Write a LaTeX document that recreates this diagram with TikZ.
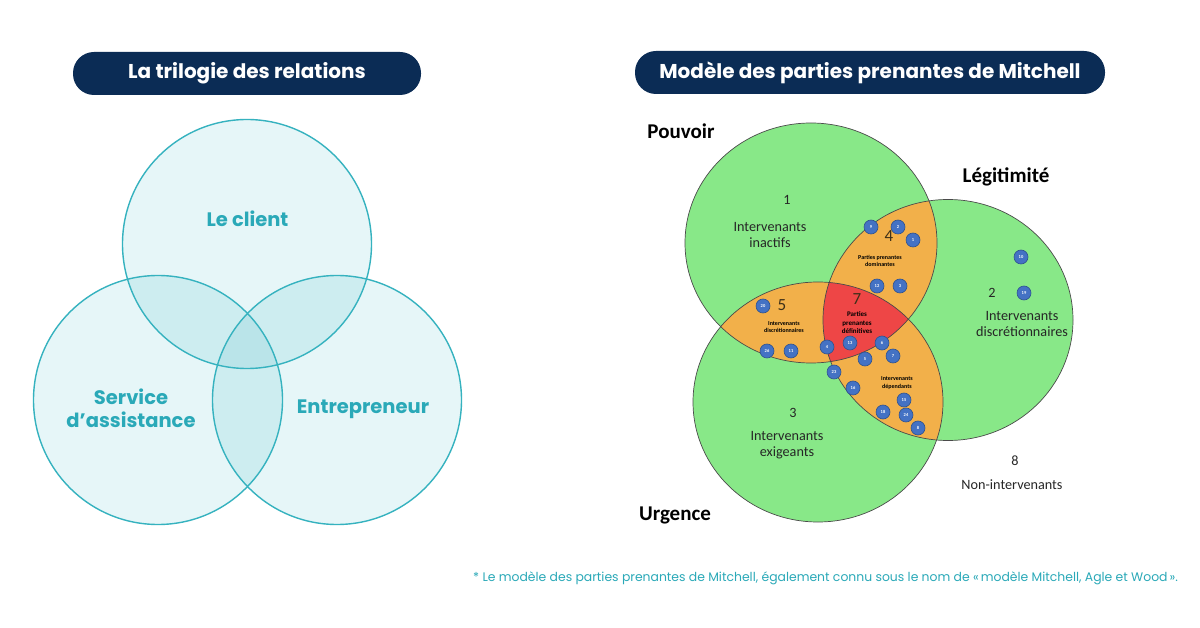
\documentclass[tikz,border=0pt]{standalone}
\usepackage{fontspec}
\setmainfont{Carlito}
\newfontfamily\geo{Poppins}
\definecolor{navy}{HTML}{0B2C55}
\definecolor{tline}{HTML}{35B2BF}
\definecolor{ttext}{HTML}{2AA9B8}
\definecolor{lbase}{HTML}{E6F6F8}
\definecolor{lpair}{HTML}{CDEDF0}
\definecolor{ltriple}{HTML}{BAE4E9}
\definecolor{vgreen}{HTML}{88E888}
\definecolor{vorange}{HTML}{F2B04A}
\definecolor{vred}{HTML}{EE4646}
\definecolor{dotblue}{HTML}{4472C4}
\definecolor{dotedge}{HTML}{2F528F}
\definecolor{vline}{HTML}{4A4A4A}
\definecolor{numcol}{HTML}{3E3018}
\tikzset{
  pill/.style={fill=navy, rounded corners=21pt, text=white, inner sep=0pt,
    minimum height=43pt, font=\geo\bfseries\fontsize{20}{20}\selectfont},
  llabel/.style={text=ttext, align=center, font=\geo\bfseries\fontsize{19.5}{23}\selectfont},
  lcirc/.style={draw=tline, line width=1.4pt},
  vcirc/.style={draw=vline, line width=0.7pt},
  axis/.style={font=\bfseries\fontsize{21}{21}\selectfont, text=black},
  reg/.style={align=center, text=black!85, font=\fontsize{14.2}{16}\selectfont},
  bignum/.style={text=numcol, font=\fontsize{17}{17}\selectfont},
  tiny/.style={align=center, text=black, font=\bfseries\fontsize{6}{7.5}\selectfont},
  dot/.style={circle, fill=dotblue, draw=dotedge, line width=0.6pt, minimum size=14pt,
    inner sep=0pt, text=white, font=\bfseries\fontsize{4.5}{4.5}\selectfont},
}
\begin{document}
\begin{tikzpicture}[x=1pt,y=-1pt]
\useasboundingbox (0,0) rectangle (1200,628);
\fill[white] (0,0) rectangle (1200,628);

% titles
\node[pill, minimum width=348pt] (t1) at (247,73.5) {La trilogie des relations};
\node[pill, minimum width=470pt] (t2) at (870,72.5) {Modèle des parties prenantes de Mitchell};

% ---------- left Venn ----------
\fill[lbase] (247,244) circle[radius=124.5pt];
\fill[lbase] (158,400) circle[radius=124.5pt];
\fill[lbase] (337,400) circle[radius=124.5pt];
\begin{scope}
  \clip (247,244) circle[radius=124.5pt];
  \fill[lpair] (158,400) circle[radius=124.5pt];
  \fill[lpair] (337,400) circle[radius=124.5pt];
\end{scope}
\begin{scope}
  \clip (158,400) circle[radius=124.5pt];
  \fill[lpair] (337,400) circle[radius=124.5pt];
\end{scope}
\begin{scope}
  \clip (247,244) circle[radius=124.5pt];
  \clip (158,400) circle[radius=124.5pt];
  \fill[ltriple] (337,400) circle[radius=124.5pt];
\end{scope}
\draw[lcirc] (247,244) circle[radius=124.5pt];
\draw[lcirc] (158,400) circle[radius=124.5pt];
\draw[lcirc] (337,400) circle[radius=124.5pt];

\node[llabel] (client) at (247.5,219) {Le client};
\node[llabel] (service) at (131,408.5) {Service\\d’assistance};
\node[llabel] (entre) at (363,409) {Entrepreneur};

% ---------- right Venn (Mitchell) ----------
\fill[vgreen] (811,243) ellipse[x radius=126pt, y radius=120pt];
\fill[vgreen] (948,320) ellipse[x radius=125pt, y radius=120.5pt];
\fill[vgreen] (818,402) ellipse[x radius=125pt, y radius=120pt];
\begin{scope}
  \clip (811,243) ellipse[x radius=126pt, y radius=120pt];
  \fill[vorange] (948,320) ellipse[x radius=125pt, y radius=120.5pt];
  \fill[vorange] (818,402) ellipse[x radius=125pt, y radius=120pt];
\end{scope}
\begin{scope}
  \clip (948,320) ellipse[x radius=125pt, y radius=120.5pt];
  \fill[vorange] (818,402) ellipse[x radius=125pt, y radius=120pt];
\end{scope}
\begin{scope}
  \clip (811,243) ellipse[x radius=126pt, y radius=120pt];
  \clip (948,320) ellipse[x radius=125pt, y radius=120.5pt];
  \fill[vred] (818,402) ellipse[x radius=125pt, y radius=120pt];
\end{scope}
\draw[vcirc] (811,243) ellipse[x radius=126pt, y radius=120pt];
\draw[vcirc] (948,320) ellipse[x radius=125pt, y radius=120.5pt];
\draw[vcirc] (818,402) ellipse[x radius=125pt, y radius=120pt];

\node[axis] (pouvoir) at (681,131) {Pouvoir};
\node[axis] (legit) at (1006,177) {Légitimité};
\node[axis] (urgence) at (675,515) {Urgence};

\node[reg] (n1) at (787,200) {1};
\node[reg] (r1) at (770,235) {Intervenants\\inactifs};
\node[reg] (n2) at (992,293) {2};
\node[reg] (r2) at (1022,324) {Intervenants\\discrétionnaires};
\node[reg] (n3) at (793,413) {3};
\node[reg] (r3) at (787,445) {Intervenants\\exigeants};
\node[reg] (n8) at (1015,461) {8};
\node[reg] (r8) at (1012,485) {Non-intervenants};

\node[bignum] (n4) at (889,236) {4};
\node[bignum] (n5) at (782,305) {5};
\node[bignum] (n7) at (857,299) {7};

\node[tiny] (r4) at (880,261) {Parties prenantes\\dominantes};
\node[tiny] (r5) at (784,327) {Intervenants\\discrétionnaires};
\node[tiny, font=\bfseries\fontsize{7}{8.5}\selectfont] (r7) at (857,323) {Parties\\prenantes\\définitives};
\node[tiny] (r6) at (897,383) {Intervenants\\dépendants};

% dots
\foreach \n/\x/\y in {9/871/227, 2/898/227, 1/913/240, 12/877/286, 3/900/286,
  10/1021/257, 19/1024/293, 20/763/306, 26/767/351, 11/791/351,
  4/827/347, 13/850/343, 6/882/343, 5/865/359, 7/893/356, 23/834/372,
  16/853/388, 15/904/400, 18/883/412, 24/906/415, 8/918/428}
  \node[dot] (d\n) at (\x,\y) {\n};

% footnote
\node[anchor=west, text=ttext, inner sep=0pt, font=\geo\fontsize{12.4}{13}\selectfont] (fn) at (473,578)
  {* Le modèle des parties prenantes de Mitchell, également connu sous le nom de «\,modèle Mitchell, Agle et Wood\,».};
\end{tikzpicture}
\end{document}
